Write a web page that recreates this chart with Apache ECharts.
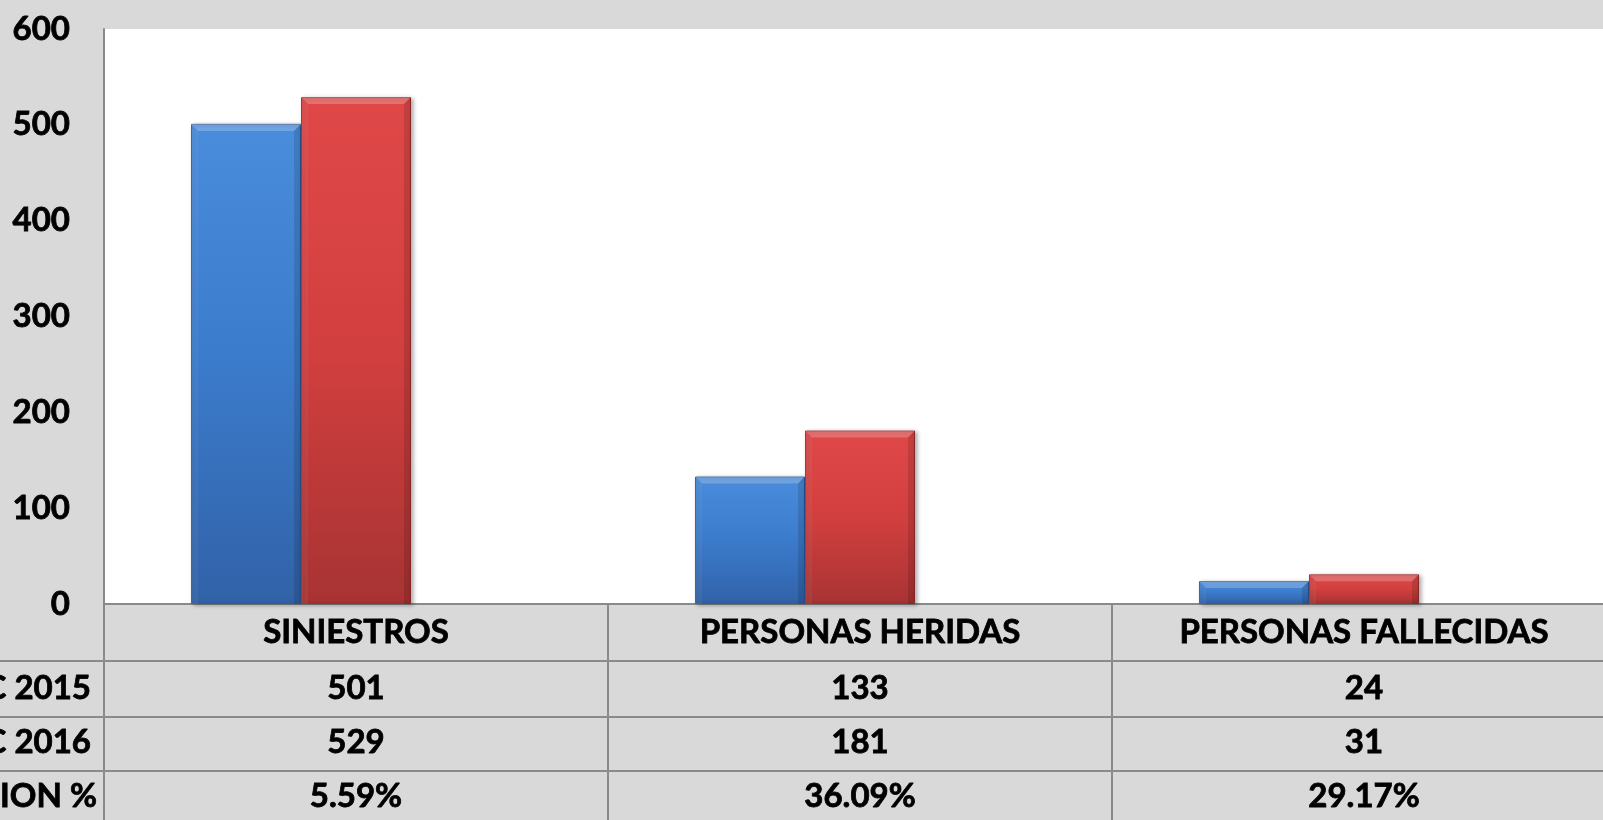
<!DOCTYPE html>
<html>
<head>
<meta charset="utf-8">
<script src="https://cdn.jsdelivr.net/npm/echarts@6/dist/echarts.min.js"></script>
<style>
html, body { margin: 0; padding: 0; background: #d9d9d9; }
#chart { width: 1603px; height: 820px; }
</style>
</head>
<body>
<div id="chart"></div>
<script>
// datos
const categories = ['SINIESTROS', 'PERSONAS HERIDAS', 'PERSONAS FALLECIDAS']
const rowLabels = ['DIC 2015', 'DIC 2016', 'VARIACION %']
const dic2015 = [501, 133, 24]
const dic2016 = [529, 181, 31]
const variacion = [0.0559, 0.3609, 0.2917]
const yMin = 0
const yMax = 600
const yStep = 100

const lineColor = '#8a8a8a'
const font = {
  fontFamily: 'Lato',
  fontWeight: 'bold',
  fontSize: 33,
  color: '#000',
  textBorderColor: '#000',
  textBorderWidth: 0.8
}

const fmtPct = (v) => (v * 100).toFixed(2) + '%'

// filas de la tabla de datos como ejes extra
const tableAxis = (data, offset, margin) => ({
  type: 'category',
  data,
  position: 'bottom',
  offset,
  axisLine: { show: true, lineStyle: { color: lineColor, width: 2 } },
  axisTick: { show: false },
  axisLabel: { ...font, interval: 0, margin, verticalAlign: 'middle' },
  splitLine: { show: false }
})

const grad = (top, mid, bottom) => new echarts.graphic.LinearGradient(0, 0, 0, 1, [
  { offset: 0, color: top },
  { offset: 0.5, color: mid },
  { offset: 1, color: bottom }
])

const barWidth = 110
const bevel = 7

// biseles encima de cada barra (efecto 3D de Excel)
const renderBevel = (params, api) => {
  const s = api.value(2)
  const top = api.coord([api.value(0), api.value(1)])
  const base = api.coord([api.value(0), 0])
  const x0 = top[0] - barWidth * 1.5 + s * barWidth
  const x1 = x0 + barWidth
  const y = top[1]
  const yb = base[1]
  const b = Math.min(bevel, (yb - y) / 2)
  return {
    type: 'group',
    silent: true,
    children: [
      {
        type: 'polygon',
        shape: { points: [[x0, y], [x1, y], [x1 - b, y + b], [x0 + b, y + b]] },
        style: { fill: 'rgba(255,255,255,0.22)' }
      },
      {
        type: 'polygon',
        shape: { points: [[x1, y], [x1, yb], [x1 - b, yb], [x1 - b, y + b]] },
        style: { fill: 'rgba(0,0,0,0.12)' }
      },
      {
        type: 'polygon',
        shape: { points: [[x0, y], [x0 + b, y + b], [x0 + b, yb], [x0, yb]] },
        style: { fill: 'rgba(255,255,255,0.06)' }
      }
    ]
  }
}

const rowY = [688, 742, 796]
const rowX = [91, 91, 97]
const lineY = [661, 717, 771]

const chart = echarts.init(document.getElementById('chart'))
const options = {
  backgroundColor: '#d9d9d9',
  animation: false,
  grid: {
    left: 104,
    top: 29,
    width: 1512,
    bottom: 216,
    containLabel: false,
    outerBoundsMode: 'none',
    show: true,
    backgroundColor: '#ffffff',
    borderWidth: 0
  },
  xAxis: [
    {
      type: 'category',
      data: categories,
      position: 'bottom',
      axisLine: { show: true, lineStyle: { color: lineColor, width: 2 } },
      axisTick: { show: true, length: 216, interval: 0, lineStyle: { color: lineColor, width: 2 } },
      axisLabel: { ...font, interval: 0, margin: 28, verticalAlign: 'middle' },
      splitLine: { show: false }
    },
    tableAxis(dic2015.map(String), 57, 27),
    tableAxis(dic2016.map(String), 113, 25),
    tableAxis(variacion.map(fmtPct), 167, 25)
  ],
  yAxis: {
    type: 'value',
    min: yMin,
    max: yMax,
    interval: yStep,
    axisLine: { show: true, lineStyle: { color: lineColor, width: 2 } },
    axisTick: { show: false },
    splitLine: { show: false },
    axisLabel: { ...font, margin: 34 }
  },
  series: [
    {
      name: rowLabels[0],
      type: 'bar',
      barWidth,
      barGap: '0%',
      data: dic2015,
      itemStyle: {
        color: grad('#4a8ddc', '#3b7bcb', '#3162a8'),
        borderColor: '#2f5c9c',
        borderWidth: 1,
        shadowColor: 'rgba(0,0,0,0.3)',
        shadowBlur: 4,
        shadowOffsetX: 2,
        shadowOffsetY: 1
      }
    },
    {
      name: rowLabels[1],
      type: 'bar',
      barWidth,
      barGap: '0%',
      data: dic2016,
      itemStyle: {
        color: grad('#e04848', '#d23f3f', '#a83333'),
        borderColor: '#9a2e2e',
        borderWidth: 1,
        shadowColor: 'rgba(0,0,0,0.3)',
        shadowBlur: 4,
        shadowOffsetX: 2,
        shadowOffsetY: 1
      }
    },
    {
      name: rowLabels[2],
      type: 'bar',
      barWidth,
      barGap: '0%',
      data: variacion,
      itemStyle: { color: 'rgba(0,0,0,0)' },
      silent: true
    },
    {
      type: 'custom',
      renderItem: renderBevel,
      silent: true,
      z: 3,
      data: [
        ...dic2015.map((v, i) => [i, v, 0]),
        ...dic2016.map((v, i) => [i, v, 1])
      ]
    }
  ],
  graphic: [
    ...lineY.map((y) => ({
      type: 'line',
      shape: { x1: 0, y1: y, x2: 104, y2: y },
      style: { stroke: lineColor, lineWidth: 2 }
    })),
    ...rowLabels.map((t, i) => ({
      type: 'text',
      x: rowX[i],
      y: rowY[i],
      style: {
        text: t,
        align: 'right',
        verticalAlign: 'middle',
        font: 'bold 33px Lato',
        fill: '#000',
        stroke: '#000',
        lineWidth: 0.8
      }
    }))
  ]
}
chart.setOption(options)
window.addEventListener('resize', () => {
  chart.resize()
})
</script>
</body>
</html>
